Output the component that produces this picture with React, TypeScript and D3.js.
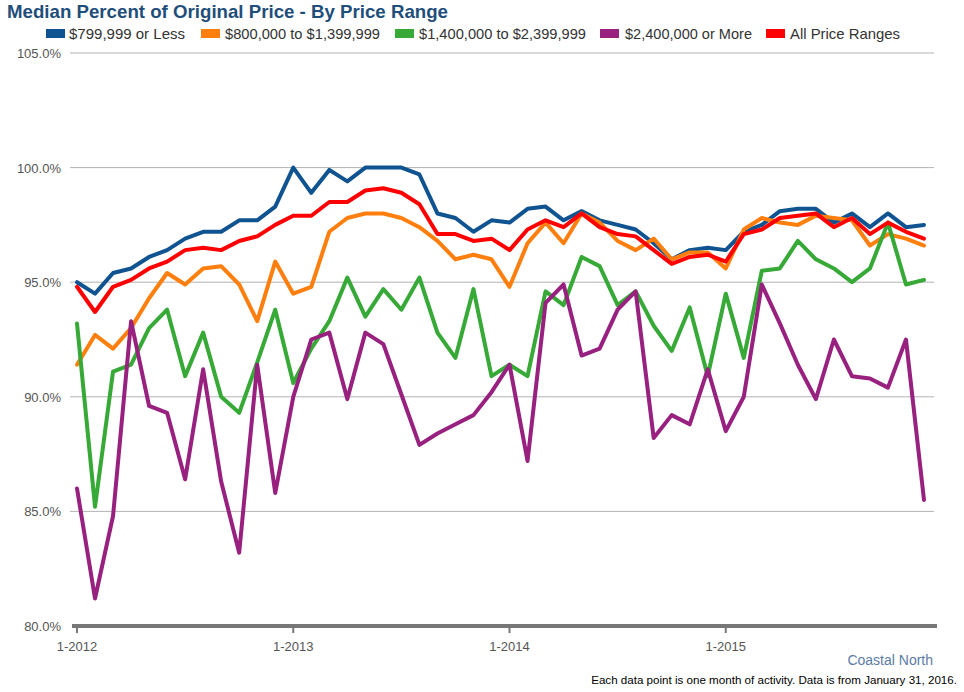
import React from "react";
import * as d3 from "d3";

const months: string[] = [];
for (let y = 2012; y <= 2015; y++) for (let m = 1; m <= 12; m++) months.push(`${m}-${y}`);

const seriesNames = [
  "$799,999 or Less",
  "$800,000 to $1,399,999",
  "$1,400,000 to $2,399,999",
  "$2,400,000 or More",
  "All Price Ranges",
];
const seriesColors = ["#0f5391", "#ff7f0e", "#36a936", "#98207e", "#ff0000"];

const under800k = [
  95.0, 94.5, 95.4, 95.6, 96.1, 96.4, 96.9, 97.2, 97.2, 97.7, 97.7, 98.3,
  100.0, 98.9, 99.9, 99.4, 100.0, 100.0, 100.0, 99.7, 98.0, 97.8, 97.2, 97.7,
  97.6, 98.2, 98.3, 97.7, 98.1, 97.7, 97.5, 97.3, 96.7, 96.0, 96.4, 96.5,
  96.4, 97.2, 97.5, 98.1, 98.2, 98.2, 97.6, 98.0, 97.4, 98.0, 97.4, 97.5,
];
const r800to1400 = [
  91.4, 92.7, 92.1, 93.0, 94.3, 95.4, 94.9, 95.6, 95.7, 94.9, 93.3, 95.9,
  94.5, 94.8, 97.2, 97.8, 98.0, 98.0, 97.8, 97.4, 96.8, 96.0, 96.2, 96.0,
  94.8, 96.7, 97.6, 96.7, 98.0, 97.6, 96.8, 96.4, 96.9, 96.0, 96.3, 96.3,
  95.6, 97.3, 97.8, 97.6, 97.5, 97.9, 97.8, 97.7, 96.6, 97.1, 96.9, 96.6,
];
const r1400to2400 = [
  93.2, 85.2, 91.1, 91.4, 93.0, 93.8, 90.9, 92.8, 90.0, 89.3, 91.5, 93.8,
  90.6, 92.1, 93.3, 95.2, 93.5, 94.7, 93.8, 95.2, 92.8, 91.7, 94.7, 90.9,
  91.4, 90.9, 94.6, 94.0, 96.1, 95.7, 94.0, 94.6, 93.1, 92.0, 93.9, 90.9,
  94.5, 91.7, 95.5, 95.6, 96.8, 96.0, 95.6, 95.0, 95.6, 97.6, 94.9, 95.1,
];
const r2400plus = [
  86.0, 81.2, 84.8, 93.3, 89.6, 89.3, 86.4, 91.2, 86.3, 83.2, 91.4, 85.8,
  90.0, 92.5, 92.8, 89.9, 92.8, 92.3, 90.1, 87.9, 88.4, 88.8, 89.2, 90.2,
  91.4, 87.2, 94.1, 94.9, 91.8, 92.1, 93.8, 94.6, 88.2, 89.2, 88.8, 91.2,
  88.5, 90.0, 94.9, 93.2, 91.4, 89.9, 92.5, 90.9, 90.8, 90.4, 92.5, 85.5,
];
const allRanges = [
  94.8, 93.7, 94.8, 95.1, 95.6, 95.9, 96.4, 96.5, 96.4, 96.8, 97.0, 97.5,
  97.9, 97.9, 98.5, 98.5, 99.0, 99.1, 98.9, 98.4, 97.1, 97.1, 96.8, 96.9,
  96.4, 97.3, 97.7, 97.4, 98.0, 97.4, 97.1, 97.0, 96.4, 95.8, 96.1, 96.2,
  95.9, 97.1, 97.3, 97.8, 97.9, 98.0, 97.4, 97.8, 97.1, 97.6, 97.2, 96.9,
];

const seriesValues = [under800k, r800to1400, r1400to2400, r2400plus, allRanges];

const yTicks = [80, 85, 90, 95, 100, 105];
const xTickLabels = ["1-2012", "1-2013", "1-2014", "1-2015"];

const W = 964;
const H = 692;
const FONT = "'Liberation Sans', Arial, sans-serif";

export default function App() {
  const x = d3.scaleLinear().domain([0, months.length - 1]).range([77, 924]);
  const y = d3.scaleLinear().domain([80, 105]).range([626, 53]);
  const line = d3
    .line<number>()
    .x((_, i) => x(i))
    .y((d) => y(d))
    .curve(d3.curveLinear);

  const legendItems = [
    { sx: 46, tx: 69, w: 116 },
    { sx: 201, tx: 225, w: 155 },
    { sx: 395, tx: 419, w: 167 },
    { sx: 600, tx: 625, w: 127 },
    { sx: 766, tx: 790, w: 110 },
  ];

  return (
    <svg
      width={W}
      height={H}
      style={{ position: "absolute", left: 0, top: 0, background: "#fff" }}
      fontFamily={FONT}
    >
      <rect width={W} height={H} fill="#fff" />
      <text
        x={7}
        y={18}
        fontSize={19}
        fontWeight="bold"
        fill="#1f4e7a"
        textLength={441}
        lengthAdjust="spacingAndGlyphs"
      >
        Median Percent of Original Price - By Price Range
      </text>
      {seriesNames.map((n, i) => (
        <g key={n}>
          <rect x={legendItems[i].sx} y={29} width={19} height={9} fill={seriesColors[i]} />
          <text
            x={legendItems[i].tx}
            y={39}
            fontSize={15}
            fill="#333"
            textLength={legendItems[i].w}
            lengthAdjust="spacingAndGlyphs"
          >
            {n}
          </text>
        </g>
      ))}
      {yTicks.map((t) => (
        <g key={t}>
          {t !== 80 && (
            <line x1={70} x2={934} y1={y(t)} y2={y(t)} stroke="#b3b3b3" strokeWidth={1} />
          )}
          <text x={61} y={y(t) + 5} fontSize={13} fill="#555" textAnchor="end">
            {t.toFixed(1)}%
          </text>
        </g>
      ))}
      {seriesValues.map((vals, i) => (
        <path
          key={i}
          d={line(vals) || ""}
          fill="none"
          stroke={seriesColors[i]}
          strokeWidth={4}
          strokeLinejoin="round"
          strokeLinecap="round"
        />
      ))}
      <line x1={72} x2={937} y1={626} y2={626} stroke="#777" strokeWidth={4} />
      {xTickLabels.map((lab, k) => (
        <g key={lab}>
          <line x1={x(k * 12)} x2={x(k * 12)} y1={626} y2={633} stroke="#777" strokeWidth={2} />
          <text x={x(k * 12)} y={651} fontSize={13} fill="#555" textAnchor="middle">
            {lab}
          </text>
        </g>
      ))}
      <text x={933} y={665} fontSize={14} fill="#5b7ca6" textAnchor="end">
        Coastal North
      </text>
      <text x={957} y={684} fontSize={11.6} fill="#000" textAnchor="end">
        Each data point is one month of activity. Data is from January 31, 2016.
      </text>
    </svg>
  );
}
